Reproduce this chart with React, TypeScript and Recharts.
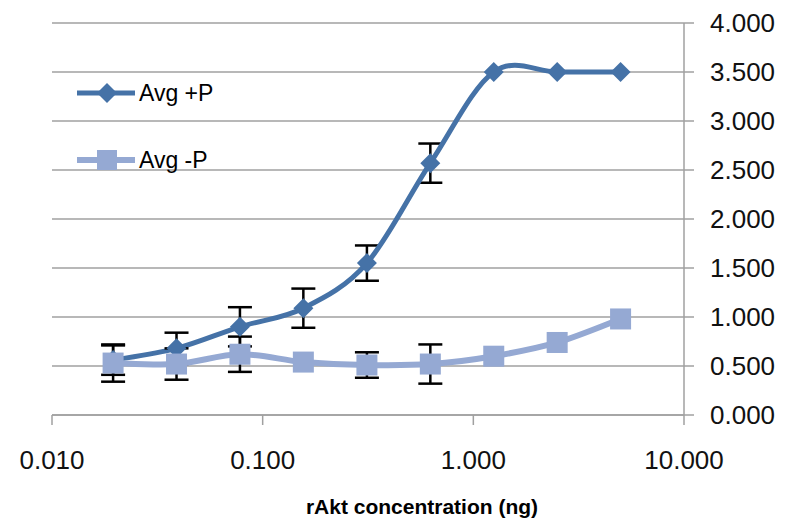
import React from 'react';
import { ComposedChart, Line, XAxis, YAxis, CartesianGrid, ErrorBar, Legend } from 'recharts';

const concentrations = [0.0195, 0.039, 0.078, 0.156, 0.3125, 0.625, 1.25, 2.5, 5];
const avgPlus = [0.56, 0.68, 0.9, 1.09, 1.55, 2.57, 3.5, 3.5, 3.5];
const errPlus = [0.15, 0.16, 0.2, 0.2, 0.18, 0.2, 0, 0, 0];
const avgMinus = [0.53, 0.52, 0.62, 0.54, 0.51, 0.52, 0.6, 0.74, 0.98];
const errMinus = [0.19, 0.16, 0.18, 0, 0.13, 0.2, 0, 0, 0];
const xTicks = [0.01, 0.1, 1, 10];
const yTicks = [0, 0.5, 1, 1.5, 2, 2.5, 3, 3.5, 4];

const data = concentrations.map((x, i) => ({
  x,
  plus: avgPlus[i],
  errPlus: errPlus[i],
  minus: avgMinus[i],
  errMinus: errMinus[i],
}));

const PLUS = '#4572A7';
const MINUS = '#95A9D3';
const GRID = '#a0a0a0';
const FONT = 'Liberation Sans, Arial, sans-serif';

// Excel-like smoothing (Catmull-Rom style Bezier)
function excelCurve(context: any) {
  let pts: number[][] = [];
  return {
    areaStart() {},
    areaEnd() {},
    lineStart() {
      pts = [];
    },
    point(x: number, y: number) {
      pts.push([+x, +y]);
    },
    lineEnd() {
      const n = pts.length;
      if (!n) return;
      context.moveTo(pts[0][0], pts[0][1]);
      for (let i = 0; i < n - 1; i++) {
        const p0 = pts[i - 1] || pts[i];
        const p1 = pts[i];
        const p2 = pts[i + 1];
        const p3 = pts[i + 2] || pts[i + 1];
        const c1x = p1[0] + (p2[0] - p0[0]) / 6;
        const c1y = p1[1] + (p2[1] - p0[1]) / 6;
        const c2x = p2[0] - (p3[0] - p1[0]) / 6;
        const c2y = p2[1] - (p3[1] - p1[1]) / 6;
        context.bezierCurveTo(c1x, c1y, c2x, c2y, p2[0], p2[1]);
      }
    },
  };
}

const Diamond = (props: any) => {
  const { cx, cy } = props;
  if (cx == null || cy == null) return null;
  return (
    <polygon
      points={`${cx},${cy - 10} ${cx + 10},${cy} ${cx},${cy + 10} ${cx - 10},${cy}`}
      fill={PLUS}
    />
  );
};

const Square = (props: any) => {
  const { cx, cy } = props;
  if (cx == null || cy == null) return null;
  return <rect x={cx - 10.5} y={cy - 10.5} width={21} height={21} fill={MINUS} />;
};

const LegendContent = () => (
  <svg width={200} height={130}>
    <line x1={17} y1={33} x2={75} y2={33} stroke={PLUS} strokeWidth={5} />
    <polygon points="47,23 57,33 47,43 37,33" fill={PLUS} />
    <text x={79} y={33} dominantBaseline="central" fontFamily={FONT} fontSize={23} fill="#000">
      Avg +P
    </text>
    <line x1={17} y1={100} x2={75} y2={100} stroke={MINUS} strokeWidth={6} />
    <rect x={37} y={90} width={20} height={20} fill={MINUS} />
    <text x={79} y={100} dominantBaseline="central" fontFamily={FONT} fontSize={23} fill="#000">
      Avg -P
    </text>
  </svg>
);

const XTitle = (props: any) => {
  const vb = props.viewBox || {};
  return (
    <text
      x={vb.x + vb.width / 2 + 54}
      y={vb.y + 99}
      textAnchor="middle"
      fontFamily={FONT}
      fontWeight="bold"
      fontSize={21}
      fill="#000"
    >
      rAkt concentration (ng)
    </text>
  );
};

export default function App() {
  return (
    <div style={{ position: 'absolute', left: 0, top: 0, background: '#fff' }}>
      <ComposedChart
        width={792}
        height={519}
        data={data}
        margin={{ top: 23, right: 0, bottom: 0, left: 52 }}
      >
        <CartesianGrid vertical={false} stroke={GRID} strokeWidth={1.5} />
        <XAxis
          dataKey="x"
          type="number"
          scale="log"
          domain={[0.01, 10]}
          ticks={xTicks}
          interval={0}
          allowDataOverflow
          tickFormatter={(v: number) => v.toFixed(3)}
          tickSize={10}
          tickMargin={26}
          stroke={GRID}
          strokeWidth={1.5}
          tick={{ fill: '#111', fontSize: 26, fontFamily: FONT }}
          height={104}
          label={<XTitle />}
        />
        <YAxis
          orientation="right"
          domain={[0, 4]}
          ticks={yTicks}
          interval={0}
          tickFormatter={(v: number) => v.toFixed(3)}
          tickSize={10}
          tickMargin={16}
          stroke={GRID}
          strokeWidth={1.5}
          tick={{ fill: '#111', fontSize: 26, fontFamily: FONT }}
          width={108}
        />
        <Legend
          layout="vertical"
          align="center"
          verticalAlign="middle"
          content={<LegendContent />}
          wrapperStyle={{ left: 60, top: 60, width: 200, height: 130 }}
        />
        <Line
          dataKey="plus"
          name="Avg +P"
          type={excelCurve as any}
          stroke={PLUS}
          strokeWidth={5}
          dot={false}
          activeDot={false}
          isAnimationActive={false}
        >
          <ErrorBar dataKey="errPlus" direction="y" width={12} stroke="#000" strokeWidth={2.5} />
        </Line>
        <Line
          dataKey="plus"
          legendType="none"
          stroke="none"
          dot={<Diamond />}
          activeDot={false}
          isAnimationActive={false}
        />
        <Line
          dataKey="minus"
          name="Avg -P"
          type={excelCurve as any}
          stroke={MINUS}
          strokeWidth={6}
          dot={false}
          activeDot={false}
          isAnimationActive={false}
        >
          <ErrorBar dataKey="errMinus" direction="y" width={12} stroke="#000" strokeWidth={2.5} />
        </Line>
        <Line
          dataKey="minus"
          legendType="none"
          stroke="none"
          dot={<Square />}
          activeDot={false}
          isAnimationActive={false}
        />
      </ComposedChart>
    </div>
  );
}
